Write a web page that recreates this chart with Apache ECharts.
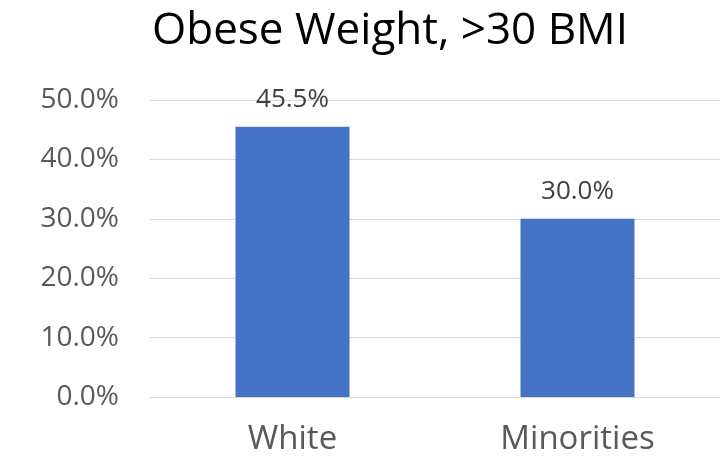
<!DOCTYPE html>
<html><head><meta charset="utf-8">
<script src="https://cdn.jsdelivr.net/npm/echarts@6/dist/echarts.min.js"></script>
<style>html,body{margin:0;padding:0;background:#fff}#c{width:726px;height:459px}</style>
</head><body><div id="c"></div>
<script>
const categories = ["White", "Minorities"];
const values = [45.5, 30.0];
const titleText = "Obese Weight, >30 BMI";
const chart = echarts.init(document.getElementById('c'));
chart.setOption({
  animation: false,
  title: {text: titleText, left: 385, top: 4, textAlign: 'center',
    textStyle: {fontFamily: 'Open Sans', fontWeight: 'normal', fontSize: 44, color: '#000'}},
  grid: {left: 150, right: 6, top: 100, bottom: 62},
  xAxis: {type: 'category', data: categories,
    axisLine: {lineStyle: {color: '#d9d9d9'}}, axisTick: {show: false},
    axisLabel: {fontFamily: 'Open Sans', fontSize: 33, color: '#595959', margin: 26}},
  yAxis: {type: 'value', min: 0, max: 50, interval: 10,
    axisLine: {show: false}, axisTick: {show: false},
    splitLine: {lineStyle: {color: '#d9d9d9'}},
    axisLabel: {fontFamily: 'Open Sans', fontSize: 28, color: '#595959', margin: 31,
      formatter: v => v.toFixed(1) + '%'}},
  series: [{type: 'bar', data: values, barWidth: '40%',
    itemStyle: {color: '#4472c4'},
    label: {show: true, position: 'top', distance: 14, fontFamily: 'Open Sans', fontSize: 26, color: '#404040',
      formatter: p => p.value.toFixed(1) + '%'}}]
});
</script></body></html>
